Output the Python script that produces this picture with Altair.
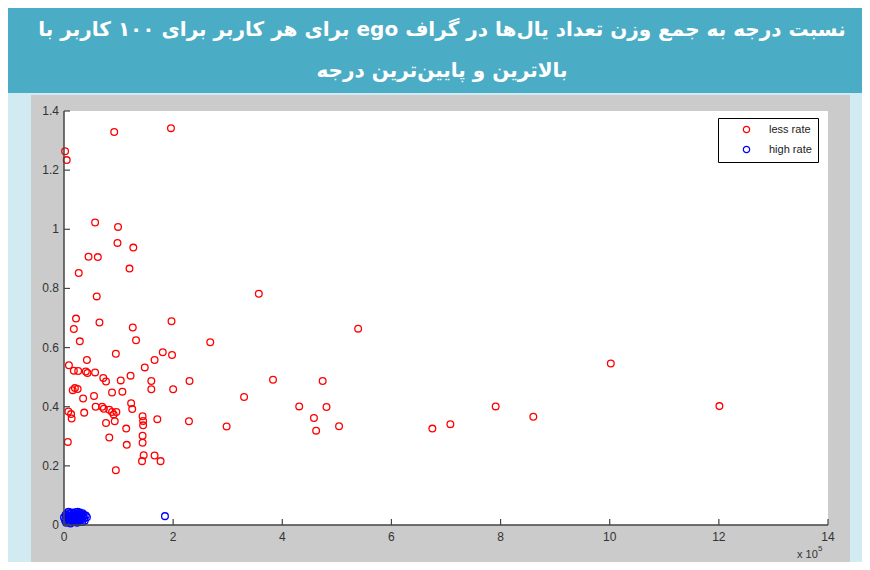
import altair as alt
import pandas as pd

# ---------------- data ----------------
red_x = [0.02, 0.05, 0.92, 1.96, 0.57, 0.99, 0.98, 1.27, 0.45, 0.62,
         0.27, 1.20, 0.60, 3.57, 0.22, 0.18, 0.65, 1.26, 1.97, 5.39,
         0.29, 1.32, 2.68, 10.02, 0.95, 1.81, 1.98, 1.66, 0.42, 0.09,
         1.48, 0.18, 0.26, 0.40, 0.43, 0.57, 1.22, 0.72, 0.77, 1.04,
         1.60, 1.60, 2.30, 3.83, 4.74, 0.20, 0.25, 0.16, 1.07, 2.00,
         0.55, 0.88, 0.35, 3.30, 4.31, 4.81, 0.08, 0.13, 0.14, 0.37,
         0.58, 0.70, 0.73, 0.83, 0.88, 0.96, 0.91, 1.23, 1.25, 1.44,
         1.45, 1.45, 1.71, 2.29, 2.98, 0.77, 0.93, 1.14, 0.07, 0.83,
         1.44, 1.44, 1.15, 1.46, 1.43, 1.66, 1.77, 0.95, 4.58, 4.62,
         5.04, 6.75, 7.08, 7.91, 8.60, 12.01]
red_y = [1.264, 1.234, 1.329, 1.342, 1.023, 1.008, 0.954, 0.938, 0.907, 0.906,
         0.852, 0.867, 0.773, 0.782, 0.698, 0.663, 0.685, 0.668, 0.689, 0.664,
         0.621, 0.625, 0.618, 0.546, 0.579, 0.584, 0.575, 0.558, 0.558, 0.540,
         0.533, 0.522, 0.521, 0.519, 0.514, 0.516, 0.505, 0.497, 0.485, 0.489,
         0.487, 0.459, 0.487, 0.491, 0.487, 0.463, 0.460, 0.456, 0.451, 0.459,
         0.436, 0.448, 0.428, 0.433, 0.401, 0.399, 0.384, 0.375, 0.360, 0.380,
         0.400, 0.400, 0.393, 0.390, 0.382, 0.382, 0.374, 0.412, 0.392, 0.368,
         0.352, 0.337, 0.358, 0.351, 0.333, 0.345, 0.351, 0.326, 0.281, 0.296,
         0.302, 0.278, 0.271, 0.236, 0.216, 0.235, 0.216, 0.185, 0.362, 0.319,
         0.334, 0.326, 0.341, 0.401, 0.366, 0.402]

blue_x = [0.00, 0.02, 0.03, 0.05, 0.06, 0.07, 0.08, 0.09, 0.10, 0.11,
          0.12, 0.13, 0.14, 0.15, 0.16, 0.17, 0.18, 0.19, 0.20, 0.21,
          0.22, 0.23, 0.24, 0.25, 0.26, 0.27, 0.28, 0.30, 0.32, 0.35,
          0.40, 0.04, 0.08, 0.12, 0.16, 0.20, 0.24, 0.28, 0.10, 0.18,
          0.26, 0.31, 0.34, 0.37, 0.42, 0.38, 0.29, 0.33, 0.06, 0.14,
          0.22, 0.36, 1.85]
blue_y = [0.025, 0.015, 0.035, 0.020, 0.040, 0.010, 0.030, 0.018, 0.038, 0.012,
          0.028, 0.022, 0.042, 0.015, 0.033, 0.020, 0.040, 0.010, 0.030, 0.025,
          0.018, 0.036, 0.012, 0.045, 0.027, 0.020, 0.033, 0.025, 0.030, 0.028,
          0.032, 0.008, 0.045, 0.005, 0.010, 0.012, 0.008, 0.015, 0.025, 0.028,
          0.040, 0.018, 0.040, 0.022, 0.026, 0.014, 0.042, 0.010, 0.030, 0.026,
          0.044, 0.035, 0.030]

series_names = ["less rate", "high rate"]
series_colors = ["#FF0000", "#0000FF"]
x_ticks = [0, 2, 4, 6, 8, 10, 12, 14]
y_ticks = [0, 0.2, 0.4, 0.6, 0.8, 1.0, 1.2, 1.4]
x_tick_labels = ["0", "2", "4", "6", "8", "10", "12", "14"]
y_tick_labels = ["0", "0.2", "0.4", "0.6", "0.8", "1", "1.2", "1.4"]
title_lines = [
    "\u202bنسبت درجه به جمع وزن تعداد یال\u200cها در گراف ego برای هر کاربر برای ۱۰۰ کاربر با\u202c",
    "\u202bبالاترین و پایین\u200cترین درجه\u202c",
]
exp_base = "x 10"
exp_power = "5"

# ---------------- layout (pixels) ----------------
W, H = 764, 414          # plot area
OX, OY = 56, 103          # plot origin inside the chart (page margin 8px)
TOTAL_W, TOTAL_H = 854, 554
X_MAX, Y_MAX = 14.0, 1.4
FONT = "Liberation Sans"
AXIS_COLOR = "#444"

def px_x(p):   # pixel offset from plot left -> data x
    return p / W * X_MAX

def px_y(p):   # pixel offset from plot top -> data y
    return Y_MAX - p / H * Y_MAX

xs = alt.Scale(domain=[0, X_MAX], nice=False, zero=False)
ys = alt.Scale(domain=[0, Y_MAX], nice=False, zero=False)
XN = dict(scale=xs, axis=None)
YN = dict(scale=ys, axis=None)

def panel(x0, x1, y0, y1, color):
    d = pd.DataFrame({"a": [px_x(x0)], "b": [px_x(x1)], "c": [px_y(y0)], "d": [px_y(y1)]})
    return alt.Chart(d).mark_rect(color=color, strokeWidth=0).encode(
        x=alt.X("a:Q", **XN), x2="b:Q", y=alt.Y("c:Q", **YN), y2="d:Q")

def label(text, px, py, size, color, font=FONT, weight="normal", align="center"):
    d = pd.DataFrame({"x": [px_x(px)], "y": [px_y(py)], "t": [text]})
    return alt.Chart(d).mark_text(
        font=font, fontWeight=weight, fontSize=size, color=color,
        align=align, baseline="middle").encode(
        x=alt.X("x:Q", **XN), y=alt.Y("y:Q", **YN), text="t:N")

banner = panel(-70, 820, -108, -18, "#4BACC6")
figure_bg = panel(-33, 786, -16, 470, "#CBCBCB")
plot_bg = panel(0, W, 0, H, "#FFFFFF")

title1 = label(title_lines[0], 378, -81, 20, "white", font="DejaVu Sans", weight="bold")
title2 = label(title_lines[1], 378, -40, 20, "white", font="DejaVu Sans", weight="bold")
exp1 = label(exp_base, 733, 444, 11, "#333", align="left")
exp2 = label(exp_power, 754, 438, 8, "#333", align="left")

df = pd.DataFrame({
    "x": red_x + blue_x,
    "y": red_y + blue_y,
    "series": [series_names[0]] * len(red_x) + [series_names[1]] * len(blue_x),
})

points = alt.Chart(df).mark_point(
    shape="circle", filled=False, size=45, strokeWidth=1.3, opacity=1).encode(
    x=alt.X("x:Q", **XN),
    y=alt.Y("y:Q", **YN),
    color=alt.Color("series:N",
                    scale=alt.Scale(domain=series_names, range=series_colors),
                    legend=alt.Legend(title=None, orient="none", legendX=654, legendY=7,
                                      fillColor="white", strokeColor="black",
                                      padding=6, symbolOffset=17, labelOffset=17,
                                      symbolType="circle", symbolSize=40,
                                      symbolStrokeWidth=1.2, symbolFillColor="white",
                                      labelFont=FONT, labelFontSize=11,
                                      labelColor="#222", rowPadding=7)),
)

# axis lines (left and bottom only, MATLAB style)
dom_df = pd.DataFrame({"x0": [0.0, 0.0], "x1": [0.0, X_MAX], "y0": [0.0, 0.0], "y1": [Y_MAX, 0.0]})
domains = alt.Chart(dom_df).mark_rule(color=AXIS_COLOR, strokeWidth=1.5).encode(
    x=alt.X("x0:Q", **XN), x2="x1:Q", y=alt.Y("y0:Q", **YN), y2="y1:Q")

# inward ticks
yt_df = pd.DataFrame({"v": y_ticks})
yt_df["a"] = 0.0
yt_df["b"] = px_x(6)
yt = alt.Chart(yt_df).mark_rule(color=AXIS_COLOR, strokeWidth=1.2).encode(
    y=alt.Y("v:Q", **YN), x=alt.X("a:Q", **XN), x2="b:Q")
xt_df = pd.DataFrame({"v": x_ticks})
xt_df["a"] = 0.0
xt_df["b"] = px_y(H - 6)
xt = alt.Chart(xt_df).mark_rule(color=AXIS_COLOR, strokeWidth=1.2).encode(
    x=alt.X("v:Q", **XN), y=alt.Y("a:Q", **YN), y2="b:Q")

# tick labels
ylab_df = pd.DataFrame({"v": y_ticks, "t": y_tick_labels})
ylab_df["px"] = px_x(-5)
ylab = alt.Chart(ylab_df).mark_text(font=FONT, fontSize=12, color="#333",
                                    align="right", baseline="middle").encode(
    x=alt.X("px:Q", **XN), y=alt.Y("v:Q", **YN), text="t:N")
xlab_df = pd.DataFrame({"v": x_ticks, "t": x_tick_labels})
xlab_df["py"] = px_y(H + 12)
xlab = alt.Chart(xlab_df).mark_text(font=FONT, fontSize=12, color="#333",
                                    align="center", baseline="middle").encode(
    x=alt.X("v:Q", **XN), y=alt.Y("py:Q", **YN), text="t:N")

chart = alt.layer(
    banner, figure_bg, plot_bg, title1, title2, points,
    domains, yt, xt, ylab, xlab, exp1, exp2
).properties(
    width=W, height=H,
    autosize=alt.AutoSizeParams(type="none"),
    padding={"left": OX, "top": OY, "right": TOTAL_W - OX - W, "bottom": TOTAL_H - OY - H},
).configure(
    background="#D2EAF1",
).configure_view(
    stroke=None,
)

chart.save("out.html", embed_options={"renderer": "svg", "actions": False})
